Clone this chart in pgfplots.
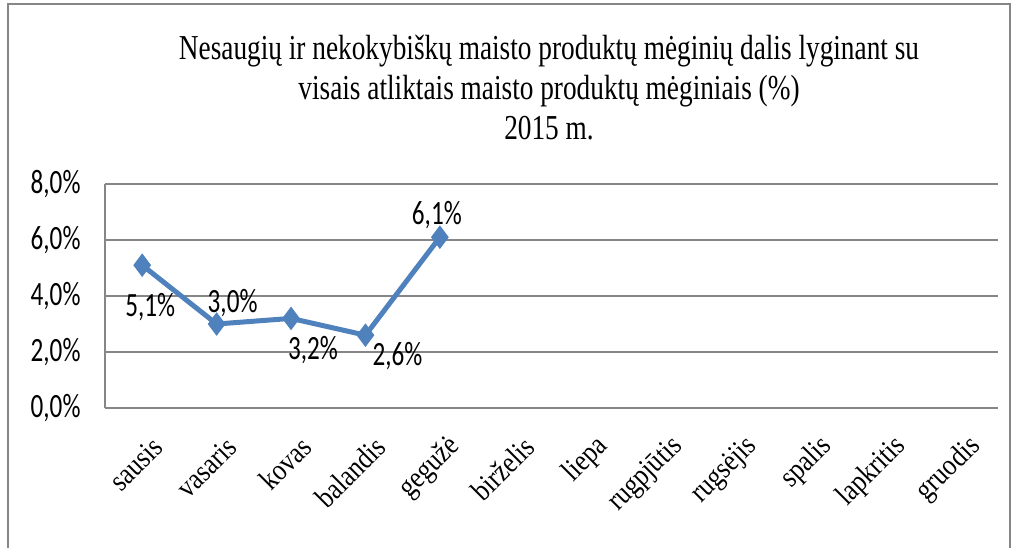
\documentclass[border=0pt]{standalone}
\usepackage{fontspec}
\usepackage{pgfplots}
\pgfplotsset{compat=1.18}
\setmainfont{Liberation Serif}
\newfontfamily\titlefont[FakeStretch=0.78]{Liberation Serif}
\newfontfamily\tickfont[FakeStretch=0.74]{Carlito}
\newfontfamily\catfont[FakeStretch=0.85]{Liberation Serif}
\definecolor{xlblue}{HTML}{4F81BD}
\definecolor{xlgrid}{HTML}{868686}
\begin{document}
\begin{tikzpicture}
\useasboundingbox (-105pt,-139pt) rectangle (910pt,408pt);
\begin{axis}[
  at={(0pt,0pt)}, anchor=south west,
  scale only axis, width=893pt, height=224pt,
  xmin=-0.5, xmax=11.5, ymin=0, ymax=8,
  axis lines*=left,
  axis line style={xlgrid, line width=1.5pt},
  x axis line style={-}, y axis line style={-},
  ymajorgrids, grid style={xlgrid, line width=1.5pt},
  major tick length=0pt,
  ytick={0,2,4,6,8},
  yticklabels={{0,0\%},{2,0\%},{4,0\%},{6,0\%},{8,0\%}},
  yticklabel style={font=\tickfont\fontsize{34}{36}\selectfont, anchor=east, xshift=-21pt},
  xtick={0,...,11},
  xticklabels={sausis,vasaris,kovas,balandis,gegužė,birželis,liepa,rugpjūtis,rugsėjis,spalis,lapkritis,gruodis},
  xticklabel style={font=\catfont\fontsize{30}{32}\selectfont, rotate=45, anchor=east, xshift=-10pt, yshift=-35pt},
  clip=false,
]
\addplot[xlblue, line width=5pt, mark=diamond*, mark size=11pt, mark options={solid, fill=xlblue, line width=1pt}]
  coordinates {(0,5.1) (1,3.0) (2,3.2) (3,2.6) (4,6.1)};
\addplot[draw=none, mark=none, nodes near coords={5,1\%}, point meta=explicit symbolic,
  nodes near coords style={font=\tickfont\fontsize{34}{36}\selectfont, anchor=center, xshift=8pt, yshift=-42pt}]
  coordinates {(0,5.1)};
\addplot[draw=none, mark=none, nodes near coords={3,0\%}, point meta=explicit symbolic,
  nodes near coords style={font=\tickfont\fontsize{34}{36}\selectfont, anchor=center, xshift=16pt, yshift=21pt}]
  coordinates {(1,3.0)};
\addplot[draw=none, mark=none, nodes near coords={3,2\%}, point meta=explicit symbolic,
  nodes near coords style={font=\tickfont\fontsize{34}{36}\selectfont, anchor=center, xshift=22pt, yshift=-32pt}]
  coordinates {(2,3.2)};
\addplot[draw=none, mark=none, nodes near coords={2,6\%}, point meta=explicit symbolic,
  nodes near coords style={font=\tickfont\fontsize{34}{36}\selectfont, anchor=center, xshift=32pt, yshift=-21pt}]
  coordinates {(3,2.6)};
\addplot[draw=none, mark=none, nodes near coords={6,1\%}, point meta=explicit symbolic,
  nodes near coords style={font=\tickfont\fontsize{34}{36}\selectfont, anchor=center, xshift=-3pt, yshift=22pt}]
  coordinates {(4,6.1)};
\end{axis}
\draw[xlgrid, line width=1.5pt] (-97pt,-145pt) rectangle (905pt,404pt);
\node[font=\titlefont\fontsize{35}{40}\selectfont, align=center, anchor=center] at (444pt,320pt)
  {Nesaugių ir nekokybiškų maisto produktų mėginių dalis lyginant su\\visais atliktais maisto produktų mėginiais (\%)\\2015 m.};
\end{tikzpicture}
\end{document}
